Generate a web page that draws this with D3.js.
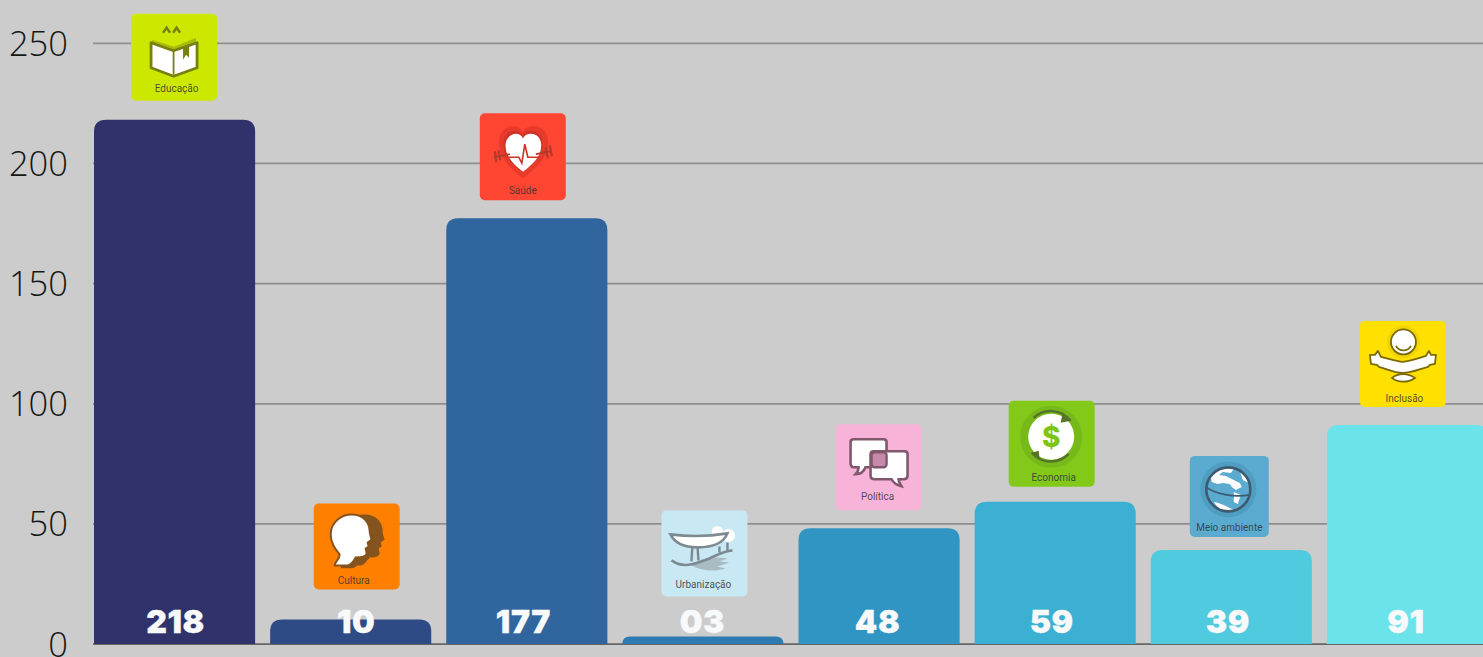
<!DOCTYPE html>
<html><head><meta charset="utf-8">
<script src="https://d3js.org/d3.v7.min.js"></script>
<style>
html,body{margin:0;padding:0;background:#cccccc;overflow:hidden}
svg{display:block}
</style></head><body>
<svg id="c" width="1483" height="657"></svg>
<script>
const categories = ["Educação","Cultura","Saúde","Urbanização","Política","Economia","Meio ambiente","Inclusão"];
const values = [218,10,177,3,48,59,39,91];
const valueLabels = ["218","10","177","03","48","59","39","91"];
const barColors = ["#30336b","#2f4b86","#30659e","#2d7bb0","#3095c3","#3cb0d2","#50cadf","#6ae4ea"];
const yTicks = [0,50,100,150,200,250];
const cardColors = ["#cde800","#ff7f00","#ff4633","#c8e8f3","#f8b3d8","#82c91a","#5aabcf","#ffe000"];
const inkColors = ["#76810f","#85531d","#b03a2c","#7e8a91","#80586c","#56732a","#3e5a6e","#7a6a05"];
// card placement relative to its bar: horizontal shift, gap above bar top, size
const cardDx = [-0.5,6,-4,1.5,-0.5,-3.5,-2,-4.5];
const cardGap = [19,30,18,40,18,15,13,18];
const cardW = [86,86,86,86,86,86,79,86];
const cardH = [87,86,87,86,86,86,81,86];
const labelDx = [1,5.5,-3.5,-0.5,-1.5,-3.5,-3.5,-1.5];
const captionDx = [2.5,-3,0,-1,-1,2,0,1.5];
const captionDy = [0,3,3,1,-1,3,3,4];

const svg = d3.select("#c");
const x = d3.scaleBand().domain(categories).range([94,1488]).paddingInner(0.0852);
const y = d3.scaleLinear().domain([0,250]).range([643.6,42.8]);

// grid + axis
const axis = svg.append("g").attr("transform","translate(93,0)")
  .call(d3.axisLeft(y).tickValues(yTicks).tickSize(-1390).tickPadding(25));
axis.select(".domain").remove();
axis.selectAll(".tick line").attr("stroke",d=>d===0?"#666":"#8e8e8e").attr("stroke-width",1.7);
axis.selectAll(".tick text").attr("font-family","'Open Sans'").attr("font-weight",300)
  .attr("font-size",34.5).attr("fill","#161616").attr("dy","0.36em");

// bars
const r = 12;
svg.append("g").selectAll("path").data(values).join("path")
  .attr("fill",(d,i)=>barColors[i])
  .attr("d",(d,i)=>{
    const x0=x(categories[i]), w=x.bandwidth(), t=y(d), b=y(0)+0.4, rr=Math.min(r,b-t);
    return `M${x0},${b}V${t+rr}Q${x0},${t} ${x0+rr},${t}H${x0+w-rr}Q${x0+w},${t} ${x0+w},${t+rr}V${b}Z`;
  });

// icons, drawn in each card's own coordinates
const icons = [
 (g,k)=>{
  g.append("path").attr("d","M32,19l3.5,-5l3.5,5M42,19l3.5,-5l3.5,5").attr("fill","none").attr("stroke",k).attr("stroke-width",2.4);
  g.append("path").attr("d","M21,26L43,33L65,24V30L43,38L21,30Z").attr("fill","#a9bb0a");
  g.append("path").attr("d","M20,29L42.5,37L66,29V54L42.5,62.5L20,54Z").attr("fill","#fff").attr("stroke",k).attr("stroke-width",2.8).attr("stroke-linejoin","round");
  g.append("path").attr("d","M42.5,37V61").attr("stroke",k).attr("stroke-width",1.8);
  g.append("path").attr("d","M52,33L58,30.5V44L55,41L52,46Z").attr("fill",k);
 },
 (g,k)=>{
  const head="M21,62C21,58 26,56 26,51C22,46 17,40 17,31C17,18 28,11 38,11C50,11 56,19 56,28C56,31 57,33 58,36L54,39L55,43L52,45L53,50C52,54 47,54 42,54C40,58 38,61 34,62Z";
  g.append("path").attr("d",head).attr("transform","translate(13,0)").attr("fill",k);
  g.append("path").attr("d",head).attr("transform","translate(8,9) scale(.9)").attr("fill",k);
  g.append("path").attr("d",head).attr("fill","#fff").attr("stroke",k).attr("stroke-width",2);
 },
 (g,k)=>{
  const h="M43,64C30,54 20,44 20,29C20,19 28,14 34,14C38,14 41,16 43,20C45,16 48,14 53,14C60,14 67,19 67,29C67,44 56,54 43,64Z";
  g.append("path").attr("d",h).attr("transform","translate(-2,-2) scale(1.05)").attr("fill","#e83a2b");
  g.append("path").attr("d",h).attr("transform","translate(7,6) scale(.83)").attr("fill","#cf3226");
  g.append("path").attr("d",h).attr("transform","translate(10.5,10) scale(.76)").attr("fill","#fff");
  g.append("path").attr("d","M14,44L30,41M56,41L71,38").attr("stroke",k).attr("stroke-width",1.8);
  g.append("path").attr("d","M15,38L16.5,49M18.5,37L20.5,47M66,34L68,45M70,32L72,43").attr("stroke",k).attr("stroke-width",2.2);
  g.append("path").attr("d","M26,44H39L42,50L45,31L48,44H60").attr("fill","none").attr("stroke","#cf3226").attr("stroke-width",1.6);
 },
 (g,k)=>{
  g.append("path").attr("d","M30,55C40,47 50,46 66,48L58,51L68,52L56,56L64,58C52,62 40,60 30,55Z").attr("fill","#a9bcc4");
  g.append("circle").attr("cx",56).attr("cy",21).attr("r",5.5).attr("fill","#fff");
  g.append("circle").attr("cx",67).attr("cy",25).attr("r",6.5).attr("fill","#fff");
  g.append("path").attr("d","M10,50C22,58 30,54 43,50C52,47 60,41 71,40").attr("fill","none").attr("stroke",k).attr("stroke-width",2.6);
  g.append("path").attr("d","M31,35L30,51M36,35L37,50M58,36V42M66,32V41").attr("stroke",k).attr("stroke-width",2.4);
  g.append("path").attr("d","M9,24C25,26 48,26 66,23C62,33 50,37 36,37C22,37 13,32 9,24Z").attr("fill","#fff").attr("stroke",k).attr("stroke-width",2.6);
 },
 (g,k)=>{
  g.append("path").attr("d","M18,15H48Q51,15 51,18V39Q51,43 47,43H30C28,48 24,50 20,50C22,48 23,46 23,43H18Q15,43 15,39V18Q15,15 18,15Z").attr("fill","#fff").attr("stroke",k).attr("stroke-width",2.6);
  g.append("path").attr("d","M38,27H69Q72,27 72,30V51Q72,55 68,55H63C63,58 65,60 66,62C62,61 58,59 56,55H39Q35,55 35,51V30Q35,27 38,27Z").attr("fill","#fff").attr("stroke",k).attr("stroke-width",2.6);
  g.append("rect").attr("x",36).attr("y",28).attr("width",15).attr("height",15).attr("rx",3).attr("fill","#c58aa8").attr("stroke",k).attr("stroke-width",2.4);
 },
 (g,k)=>{
  const cx=42.5,cy=36;
  g.append("circle").attr("cx",cx).attr("cy",cy).attr("r",31).attr("fill","#77b81a");
  g.append("circle").attr("cx",cx).attr("cy",cy).attr("r",23).attr("fill","#fff");
  g.append("path").attr("d","M25,17A25,25 0 0 1 62,20M60,53A25,25 0 0 1 23,52").attr("fill","none").attr("stroke",k).attr("stroke-width",2.4);
  g.append("path").attr("d","M54,12L62,20L52,22ZM30,50L23,52L31,59Z").attr("fill",k);
  g.append("text").attr("x",cx).attr("y",cy+10).attr("text-anchor","middle").attr("font-family","Inter,Roboto").attr("font-weight",800).attr("font-size",28).attr("fill","#7dc413").text("$");
 },
 (g,k)=>{
  const cx=38.5,cy=33.5;
  g.append("circle").attr("cx",cx).attr("cy",cy).attr("r",28).attr("fill","#4f9dc0");
  g.append("circle").attr("cx",cx).attr("cy",cy).attr("r",22).attr("fill","#5aabcf");
  g.append("path").attr("d","M21,21C26,14 36,11 44,13L41,17L33,16L29,19L36,20L44,24L50,27L52,31L46,34L42,31L40,28L33,27L28,28L22,26Z").attr("fill","#fff");
  g.append("path").attr("d","M44,36L51,39L48,48L44,46Z").attr("fill","#fff");
  g.append("path").attr("d","M24,46C31,47 38,51 44,54C36,57.5 29,54 24,46Z").attr("fill","#fff");
  g.append("path").attr("d","M50,15L55,18L59,27L53,24Z").attr("fill","#fff");
  g.append("path").attr("d","M16,31C25,38 44,42 60,39").attr("fill","none").attr("stroke",k).attr("stroke-width",1.8);
  g.append("circle").attr("cx",cx).attr("cy",cy).attr("r",22).attr("fill","none").attr("stroke",k).attr("stroke-width",2.6);
 },
 (g,k)=>{
  g.append("circle").attr("cx",43.5).attr("cy",21).attr("r",16.5).attr("fill","#f2d400");
  g.append("circle").attr("cx",43.5).attr("cy",21).attr("r",12.5).attr("fill","#fff").attr("stroke",k).attr("stroke-width",1.8);
  g.append("path").attr("d","M36,25C39,31 48,31 51,25").attr("fill","none").attr("stroke",k).attr("stroke-width",1.8);
  g.append("path").attr("d","M10,34L15,34L18,30L21,36C30,38 35,40 43,41C51,40 57,38 66,35L69,30L71,34L76,34L75,43L70,44L68,46C60,48 52,52 43,52C34,52 27,48 19,46L17,44L11,43Z").attr("fill","#fff").attr("stroke",k).attr("stroke-width",1.8).attr("stroke-linejoin","round");
  g.append("path").attr("d","M32,57C38,52 48,52 55,57C48,62 38,62 32,57Z").attr("fill","#fff").attr("stroke",k).attr("stroke-width",1.8);
 }
];

const cards = svg.append("g").selectAll("g").data(categories).join("g")
  .attr("transform",(d,i)=>{
    const cx = x(d)+x.bandwidth()/2+cardDx[i];
    return `translate(${cx-cardW[i]/2},${y(values[i])-cardGap[i]-cardH[i]})`;
  });
cards.append("rect").attr("width",(d,i)=>cardW[i]).attr("height",(d,i)=>cardH[i]).attr("rx",5)
  .attr("fill",(d,i)=>cardColors[i]);
cards.each(function(d,i){ icons[i](d3.select(this),inkColors[i]); });
cards.append("text").text(d=>d).attr("x",(d,i)=>cardW[i]/2+captionDx[i]).attr("y",(d,i)=>cardH[i]-9+captionDy[i])
  .attr("text-anchor","middle").attr("font-family","Roboto").attr("font-size",10)
  .attr("fill","#333").attr("fill-opacity",.85);

// value labels
svg.append("g").selectAll("text").data(valueLabels).join("text")
  .text(d=>d)
  .attr("x",(d,i)=>x(categories[i])+x.bandwidth()/2+labelDx[i])
  .attr("y",633)
  .attr("text-anchor","middle")
  .attr("font-family","Inter, 'Liberation Sans'")
  .attr("font-weight",900).attr("font-size",32).attr("letter-spacing",0.6)
  .attr("fill","#f8f9fb")
  .attr("stroke","#f8f9fb").attr("stroke-width",0.3);
</script>
</body></html>
